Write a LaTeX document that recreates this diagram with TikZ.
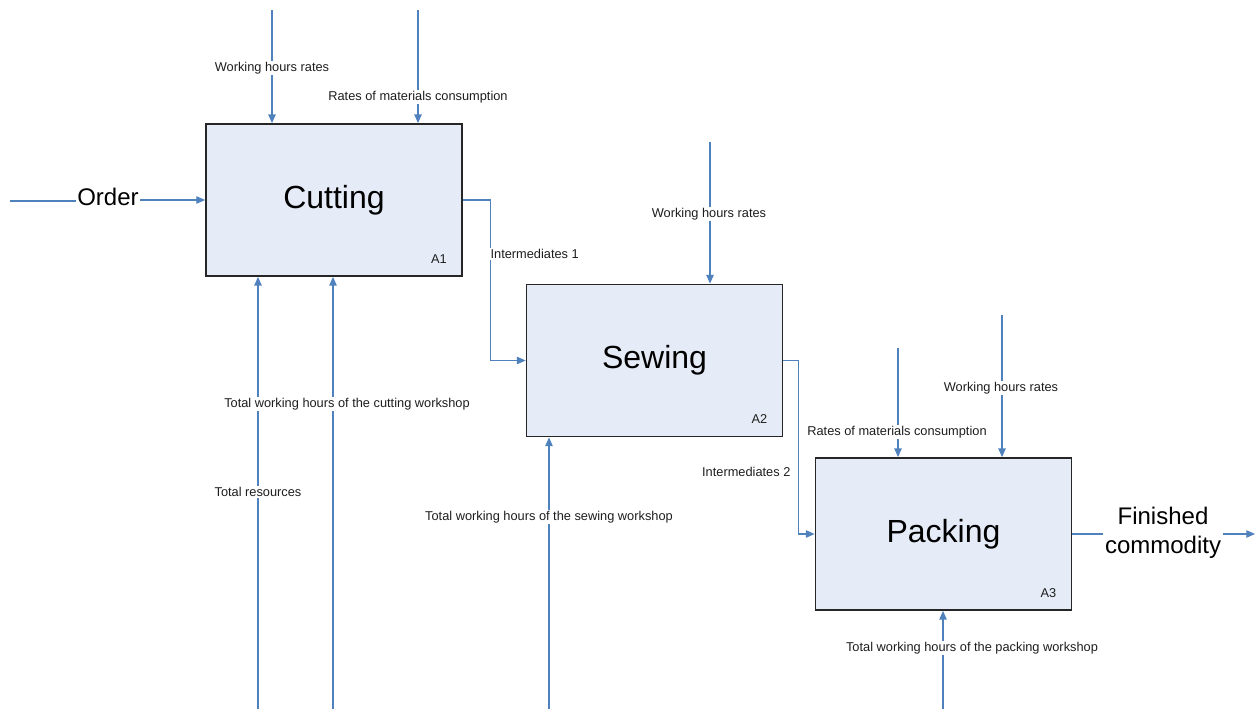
\documentclass[tikz,border=0pt]{standalone}
\usepackage{fontspec}
\setmainfont{Liberation Sans}
\usetikzlibrary{arrows.meta,calc}
\definecolor{flow}{RGB}{79,129,189}
\definecolor{boxfill}{RGB}{230,236,247}
\definecolor{txt}{RGB}{30,30,30}
\tikzset{
  proc/.style={draw=black!85, fill=boxfill, line width=1.3pt, minimum width=192pt, minimum height=114pt, inner sep=0pt, font=\fontsize{24}{28}\selectfont, text=black},
  conn/.style={draw=flow, line width=0.9pt},
  arr/.style={conn, -{Triangle[length=6.5pt,width=5.5pt]}},
  lbl/.style={font=\fontsize{9.6}{11}\selectfont, text=txt, fill=white, inner sep=1pt},
  num/.style={font=\fontsize{9.6}{11}\selectfont, text=txt, inner sep=0pt},
  big/.style={font=\fontsize{18}{21.75}\selectfont, text=black, fill=white, inner sep=1pt, align=center}
}
\begin{document}
\begin{tikzpicture}[x=0.75pt,y=-0.75pt]
\useasboundingbox (0,0) rectangle (1259,709);
% boxes
\node[proc] (cut) at (334,200) {Cutting};
\node[proc] (sew) at (654.5,360.5) {Sewing};
\node[proc] (pack) at (943.5,534) {Packing};
\node[num] (a1) at ($(cut.south east)+(-24,-18)$) {A1};
\node[num] (a2) at ($(sew.south east)+(-24,-18)$) {A2};
\node[num] (a3) at ($(pack.south east)+(-24,-18)$) {A3};
% free ends
\coordinate (o0) at (10,201);
\coordinate (c1) at (272,10);
\coordinate (c2) at (418,10);
\coordinate (c3) at (258,709);
\coordinate (c4) at (333,709);
\coordinate (s1) at (710,142);
\coordinate (s2) at (549,709);
\coordinate (p1) at (898,348);
\coordinate (p2) at (1002,315);
\coordinate (p3) at (943,709);
\coordinate (fe) at (1255,534);
% text nodes on connectors
\node[big] (ord) at (108,197) {Order};
\node[big] (fin) at (1163,533) {Finished\\commodity};
% connectors
\draw[conn] (o0) -- (o0 -| ord.west);
\draw[arr] (ord.east |- cut.west) -- (cut.west);
\draw[arr] (c1) -- (c1 |- cut.north);
\draw[arr] (c2) -- (c2 |- cut.north);
\draw[arr] (c3) -- (c3 |- cut.south);
\draw[arr] (c4) -- (c4 |- cut.south);
\draw[arr] (cut.east) -- ++(28,0) |- (sew.west);
\draw[arr] (s1) -- (s1 |- sew.north);
\draw[arr] (s2) -- (s2 |- sew.south);
\draw[arr] (sew.east) -- ++(15,0) |- (pack.west);
\draw[arr] (p1) -- (p1 |- pack.north);
\draw[arr] (p2) -- (p2 |- pack.north);
\draw[arr] (p3) -- (p3 |- pack.south);
\draw[conn] (pack.east) -- (pack.east -| fin.west);
\draw[arr] (fin.east |- fe) -- (fe);
% labels
\node[lbl] (l1) at (272,68) {Working hours rates};
\node[lbl] (l2) at (418,97) {Rates of materials consumption};
\node[lbl] (l3) at (258,492) {Total resources};
\node[lbl] (l4) at (347,404) {Total working hours of the cutting workshop};
\node[lbl, anchor=west] (l5) at (489,254) {Intermediates 1};
\node[lbl] (l6) at (709,214) {Working hours rates};
\node[lbl] (l7) at (549,517) {Total working hours of the sewing workshop};
\node[lbl, anchor=east] (l8) at (792,472) {Intermediates 2};
\node[lbl] (l9) at (897,432) {Rates of materials consumption};
\node[lbl] (l10) at (1001,388) {Working hours rates};
\node[lbl] (l11) at (972,648) {Total working hours of the packing workshop};
\end{tikzpicture}
\end{document}
